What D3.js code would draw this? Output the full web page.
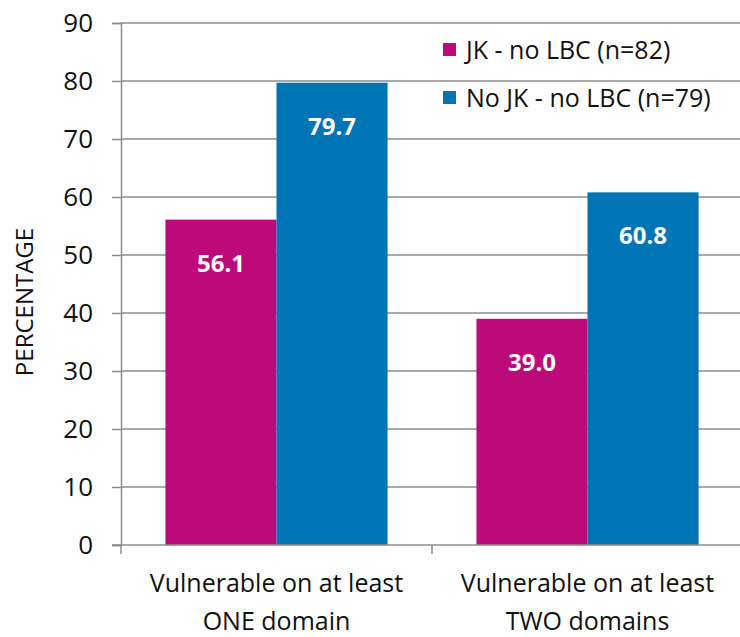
<!DOCTYPE html>
<html><head><meta charset="utf-8">
<script src="https://cdn.jsdelivr.net/npm/d3@7"></script>
<style>body{margin:0;background:#fff}svg{display:block}text{font-family:"Open Sans",sans-serif}</style>
</head><body><svg id="c" width="740" height="637"></svg>
<script>
const categories = [["Vulnerable on at least","ONE domain"],["Vulnerable on at least","TWO domains"]];
const seriesNames = ["JK - no LBC (n=82)","No JK - no LBC (n=79)"];
const seriesJK = [56.1, 39.0];
const seriesNoJK = [79.7, 60.8];
const yTicks = [0,10,20,30,40,50,60,70,80,90];
const colors = ["#BC0A7B","#0075B5"];

(function(){
const svg = d3.select("#c");
const mLeft = 121, mRight = 743, mTop = 23, mBottom = 545;
const x0 = d3.scaleBand().domain([0,1]).range([mLeft,mRight]).paddingInner(0).paddingOuter(0);
const x1 = d3.scaleBand().domain([0,1]).range([0,x0.bandwidth()]).paddingInner(0).paddingOuter(0.4);
const y = d3.scaleLinear().domain([0,90]).range([mBottom,mTop]);
const grid = "#8c8c8c";
const ff = "'Open Sans', sans-serif";

svg.append("g").selectAll("line").data(yTicks.filter(d=>d>0)).join("line")
  .attr("x1",mLeft).attr("x2",mRight).attr("y1",d=>y(d)).attr("y2",d=>y(d))
  .attr("stroke",grid).attr("stroke-width",1.5);

const ya = svg.append("g").attr("transform",`translate(${mLeft},0)`)
  .call(d3.axisLeft(y).tickValues(yTicks).tickSize(9).tickPadding(19));
ya.select(".domain").attr("stroke",grid).attr("stroke-width",1.5);
ya.selectAll(".tick line").attr("stroke",grid).attr("stroke-width",1.5);
ya.selectAll(".tick text").attr("font-size",26).attr("fill","#111").attr("font-family",ff);

const data = [seriesJK, seriesNoJK];
data.forEach((s,si)=>{
  svg.append("g").selectAll("rect").data(s).join("rect")
    .attr("x",(d,i)=>x0(i)+x1(si)).attr("width",x1.bandwidth())
    .attr("y",d=>y(d)).attr("height",d=>y(0)-y(d)).attr("fill",colors[si]);
  svg.append("g").selectAll("text").data(s).join("text")
    .attr("x",(d,i)=>x0(i)+x1(si)+x1.bandwidth()/2).attr("y",d=>y(d)+52)
    .attr("text-anchor","middle").attr("fill","#fff").attr("font-weight","bold")
    .attr("font-size",24).text(d=>d.toFixed(1));
});

const xa = svg.append("g").attr("transform",`translate(0,${mBottom})`);
xa.append("line").attr("x1",mLeft-9).attr("x2",mRight).attr("y1",0).attr("y2",0)
  .attr("stroke",grid).attr("stroke-width",1.5);
xa.selectAll("line.t").data([mLeft, mLeft+x0.bandwidth(), mRight]).join("line").attr("class","t")
  .attr("x1",d=>d).attr("x2",d=>d).attr("y1",0).attr("y2",9).attr("stroke",grid).attr("stroke-width",1.5);
categories.forEach((c,i)=>{
  const t = xa.append("text").attr("text-anchor","middle").attr("font-size",25).attr("fill","#111")
    .attr("transform",`translate(${x0(i)+x0.bandwidth()/2},0)`);
  c.forEach((line,li)=>t.append("tspan").attr("x",0).attr("y",47+li*38).text(line));
});

svg.append("text").attr("transform","translate(33,302) rotate(-90)").attr("text-anchor","middle")
  .attr("font-size",24).attr("fill","#111").text("PERCENTAGE");

const lg = svg.append("g").attr("transform","translate(443,0)");
seriesNames.forEach((n,i)=>{
  lg.append("rect").attr("x",0).attr("y",43+i*48).attr("width",13).attr("height",13).attr("fill",colors[i]);
  lg.append("text").attr("x",23).attr("y",59+i*48).attr("font-size",25).attr("fill","#111").text(n);
});
})();
</script></body></html>
